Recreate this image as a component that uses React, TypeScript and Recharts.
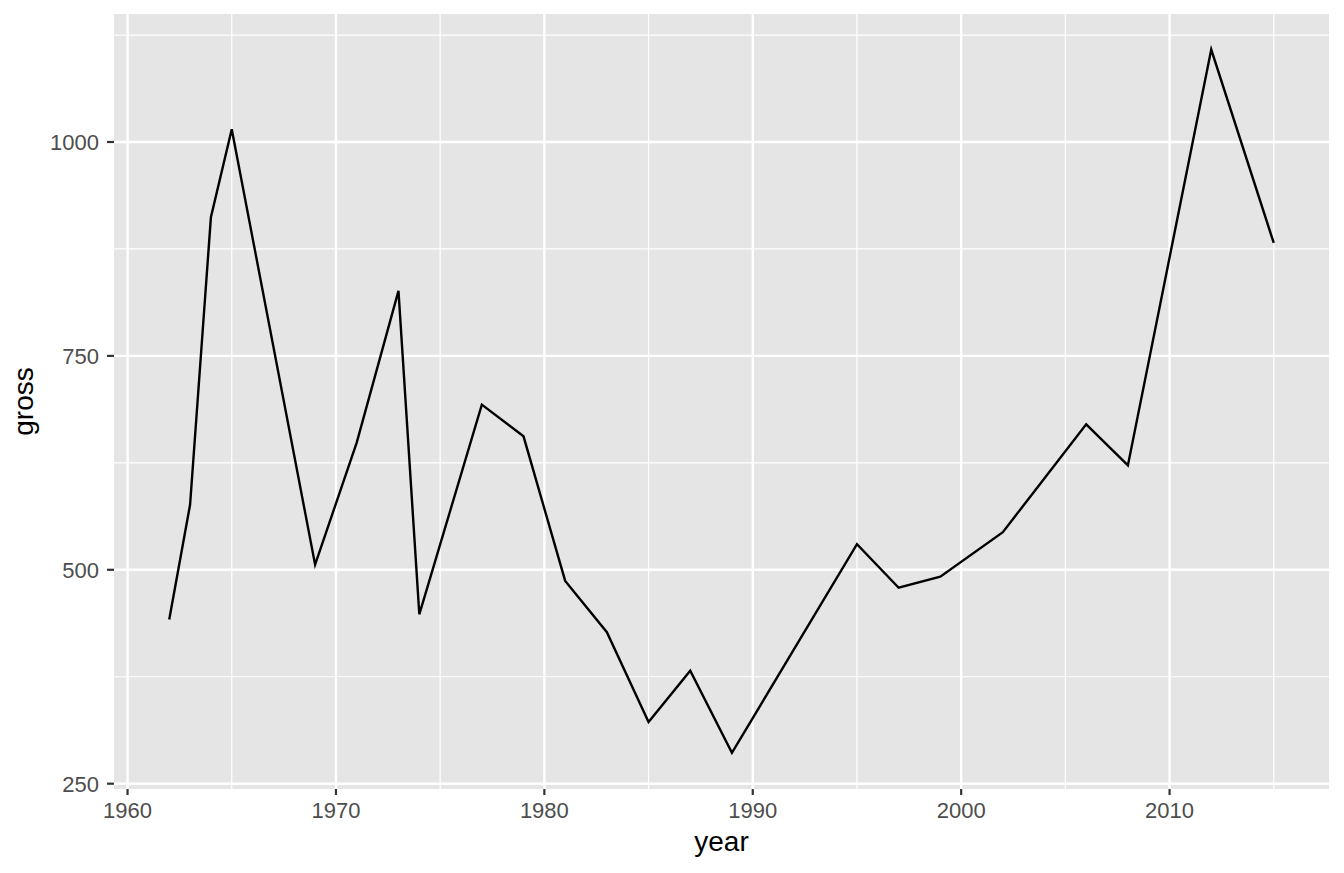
import React from "react";
import { LineChart, Line, XAxis, YAxis, CartesianGrid } from "recharts";

const years = [1962, 1963, 1964, 1965, 1969, 1971, 1973, 1974, 1977, 1979, 1981, 1983, 1985, 1987, 1989, 1995, 1997, 1999, 2002, 2006, 2008, 2012, 2015];
const gross = [442, 576, 912, 1015, 506, 649, 826, 448, 693, 656, 487, 427, 322, 382, 286, 530, 479, 492, 544, 670, 622, 1108, 882];

const xTicks = [1960, 1970, 1980, 1990, 2000, 2010];
const xMinor = [1965, 1975, 1985, 1995, 2005, 2015];
const yTicks = [250, 500, 750, 1000];
const yMinor = [375, 625, 875, 1125];

const xDomain = [1959.35, 2017.65];
const yDomain = [243.8, 1149.6];

const data = years.map((year, i) => ({ year, gross: gross[i] }));

const FONT = '"Liberation Sans", Arial, Helvetica, sans-serif';

const XTitle = (props: any) => {
  const vb = props.viewBox || {};
  return (
    <text x={vb.x + vb.width / 2} y={vb.y + 62} textAnchor="middle" fontSize={28} fill="#000" fontFamily={FONT}>
      year
    </text>
  );
};

const YTitle = (props: any) => {
  const vb = props.viewBox || {};
  const cx = 33;
  const cy = vb.y + vb.height / 2;
  return (
    <text x={cx} y={cy} transform={`rotate(-90, ${cx}, ${cy})`} textAnchor="middle" fontSize={28} fill="#000" fontFamily={FONT}>
      gross
    </text>
  );
};

export default function App() {
  return (
    <div style={{ position: "absolute", left: 0, top: 0, width: 1344, height: 873, background: "#fff" }}>
      <LineChart width={1344} height={873} data={data} margin={{ top: 14, right: 15, bottom: 0, left: 0 }}>
        <CartesianGrid
          fill="#E5E5E5"
          stroke="#FFFFFF"
          strokeWidth={1.2}
          horizontalValues={yMinor}
          verticalValues={xMinor}
        />
        <CartesianGrid
          fill="none"
          stroke="#FFFFFF"
          strokeWidth={2.4}
          horizontalValues={yTicks}
          verticalValues={xTicks}
        />
        <XAxis
          dataKey="year"
          type="number"
          domain={xDomain}
          ticks={xTicks}
          allowDataOverflow
          height={84}
          axisLine={false}
          tickLine={{ stroke: "#333333", strokeWidth: 2.2 }}
          tickSize={6}
          tickMargin={7}
          tick={{ fill: "#4D4D4D", fontSize: 22, fontFamily: FONT }}
          label={<XTitle />}
        />
        <YAxis
          type="number"
          domain={yDomain}
          ticks={yTicks}
          allowDataOverflow
          width={114}
          axisLine={false}
          tickLine={{ stroke: "#333333", strokeWidth: 2.2 }}
          tickSize={7}
          tickMargin={8}
          tick={{ fill: "#4D4D4D", fontSize: 22, fontFamily: FONT }}
          label={<YTitle />}
        />
        <Line
          type="linear"
          dataKey="gross"
          stroke="#000000"
          strokeWidth={2.4}
          dot={false}
          activeDot={false}
          isAnimationActive={false}
        />
      </LineChart>
    </div>
  );
}
